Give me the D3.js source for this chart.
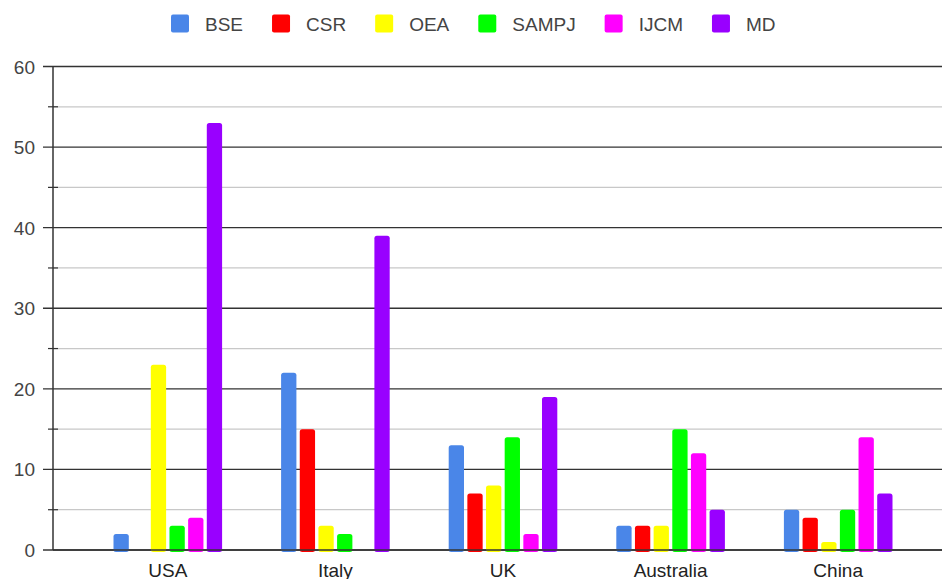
<!DOCTYPE html>
<meta charset="utf-8">
<head>
<script src="https://d3js.org/d3.v7.min.js"></script>
<style>
  body { margin: 0; background: #fff; }
  text { font-family: Arial, "Liberation Sans", sans-serif; }
</style>
</head>
<body>
<svg id="my_dataviz" width="942" height="579"></svg>
<script>
// data
var countries = ["USA", "Italy", "UK", "Australia", "China"];
var series = ["BSE", "CSR", "OEA", "SAMPJ", "IJCM", "MD"];
var colors = ["#4a86e8", "#ff0000", "#ffff00", "#00ff00", "#ff00ff", "#9900ff"];
var BSE   = [2, 22, 13, 3, 5];
var CSR   = [0, 15, 7, 3, 4];
var OEA   = [23, 3, 8, 3, 1];
var SAMPJ = [3, 2, 14, 15, 5];
var IJCM  = [4, 0, 2, 12, 14];
var MD    = [53, 39, 19, 5, 7];
var yTicks = [0, 10, 20, 30, 40, 50, 60];

var values = [BSE, CSR, OEA, SAMPJ, IJCM, MD];

var svg = d3.select("svg"),
  width = +svg.attr("width"),
  height = +svg.attr("height");

var mLeft = 53, mRight = 942, mTop = 66.5, mBottom = 550;

var y = d3.scaleLinear().domain([0, 60]).range([mBottom, mTop]);
var x0 = d3.scaleBand().domain(countries).range([84, 922])
  .paddingInner(0.332).paddingOuter(0.166);
var x1 = d3.scaleBand().domain(series).range([0, x0.bandwidth()])
  .paddingInner(0.18).paddingOuter(0.09);

// minor grid
var minor = d3.range(5, 60, 10);
svg.append("g").selectAll("line").data(minor).enter().append("line")
  .attr("x1", mLeft).attr("x2", mRight)
  .attr("y1", d => y(d)).attr("y2", d => y(d))
  .attr("stroke", "#c8c8c8").attr("stroke-width", 1.2);
svg.append("g").selectAll("line").data(minor).enter().append("line")
  .attr("x1", mLeft - 5).attr("x2", mLeft + 5)
  .attr("y1", d => y(d)).attr("y2", d => y(d))
  .attr("stroke", "#333").attr("stroke-width", 1.2);

// major grid
svg.append("g").selectAll("line").data(yTicks).enter().append("line")
  .attr("x1", mLeft - 10).attr("x2", mRight)
  .attr("y1", d => y(d)).attr("y2", d => y(d))
  .attr("stroke", "#333").attr("stroke-width", 1.3);

// y axis line
svg.append("line")
  .attr("x1", mLeft).attr("x2", mLeft)
  .attr("y1", mTop).attr("y2", mBottom)
  .attr("stroke", "#333").attr("stroke-width", 1.5);

// y labels
svg.append("g").selectAll("text").data(yTicks).enter().append("text")
  .attr("x", 35).attr("y", d => y(d) + 7)
  .attr("text-anchor", "end")
  .attr("font-size", 19).attr("fill", "#444")
  .text(d => d);

// bars
var groups = svg.append("g").selectAll("g").data(countries).enter().append("g")
  .attr("transform", d => "translate(" + x0(d) + ",0)");
groups.selectAll("rect")
  .data((c, i) => series.map((s, j) => ({ s: s, v: values[j][i], c: colors[j] })))
  .enter().append("rect")
  .filter(d => d.v > 0)
  .attr("x", d => x1(d.s))
  .attr("y", d => y(d.v))
  .attr("width", x1.bandwidth())
  .attr("height", d => mBottom - y(d.v) + 2)
  .attr("rx", 2.5)
  .attr("fill", d => d.c);

// redraw base line over the bar bottoms
svg.append("line")
  .attr("x1", mLeft).attr("x2", mRight)
  .attr("y1", mBottom).attr("y2", mBottom)
  .attr("stroke", "#333").attr("stroke-width", 1.3);

// x labels
svg.append("g").selectAll("text").data(countries).enter().append("text")
  .attr("x", d => x0(d) + x0.bandwidth() / 2)
  .attr("y", 577)
  .attr("text-anchor", "middle")
  .attr("font-size", 19).attr("fill", "#222")
  .text(d => d);

// legend
var legend = svg.append("g").attr("transform", "translate(171,0)");
var lx = 0;
series.forEach(function (s, i) {
  var g = legend.append("g").attr("transform", "translate(" + lx + ",0)");
  g.append("rect").attr("x", 0).attr("y", 14.5).attr("width", 18).attr("height", 18)
    .attr("rx", 2).attr("fill", colors[i]);
  var t = g.append("text").attr("x", 34).attr("y", 30.5)
    .attr("font-size", 19).attr("fill", "#444").text(s);
  lx += 34 + t.node().getComputedTextLength() + 29;
});
</script>
</body>
</html>
